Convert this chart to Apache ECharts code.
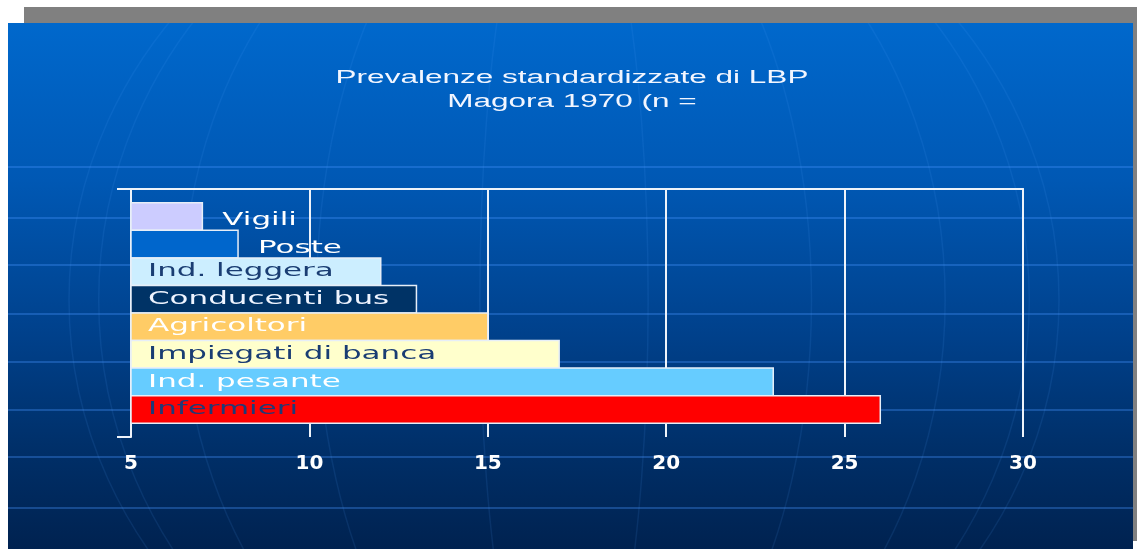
<!DOCTYPE html>
<html><head><meta charset="utf-8">
<script src="https://cdn.jsdelivr.net/npm/echarts@6/dist/echarts.min.js"></script>
<style>html,body{margin:0;padding:0;background:#fff;overflow:hidden}#c{width:1137px;height:549px}</style>
</head><body><div id="c"></div>
<script>
// ---- data ----
const categories = ['Vigili', 'Poste', 'Ind. leggera', 'Conducenti bus', 'Agricoltori', 'Impiegati di banca', 'Ind. pesante', 'Infermieri'];
const values = [7, 8, 12, 13, 15, 17, 23, 26];
const xTickLabels = [5, 10, 15, 20, 25, 30];
const titleLines = ['Prevalenze standardizzate di LBP', 'Magora 1970 (n ='];

// ---- styles ----
const barColors = ['#ccccff', '#0066cc', '#cceeff', '#003366', '#ffcc66', '#ffffcc', '#66ccff', '#ff0000'];
const labelColors = ['#ffffff', '#ffffff', '#1a3d73', '#eef4ff', '#ffffff', '#1a3d73', '#ffffff', '#1e3a78'];

const X_MIN = xTickLabels[0];
const X_MAX = xTickLabels[xTickLabels.length - 1];
const X_INT = xTickLabels[1] - xTickLabels[0];

const SX = 1.72;
const LABEL_SIZE = 18;
const LABEL_FAMILY = '"DejaVu Sans", Verdana, sans-serif';
const mctx = document.createElement('canvas').getContext('2d');
mctx.font = LABEL_SIZE + 'px ' + LABEL_FAMILY;
function textW(t) { return mctx.measureText(t).width * SX; }

const chart = echarts.init(document.getElementById('c'), null, { renderer: 'canvas' });

// background decoration
const bg = [];
bg.push({ type: 'rect', z: -20, shape: { x: 8, y: 23, width: 1125, height: 526 },
  style: { fill: new echarts.graphic.LinearGradient(0, 0, 0, 1, [
    { offset: 0, color: '#0068cc' }, { offset: 0.3, color: '#0058b4' },
    { offset: 0.6, color: '#00408a' }, { offset: 0.8, color: '#00306a' }, { offset: 1, color: '#002250' }]) } });
[167, 218, 265, 314, 362, 410, 457, 508].forEach(function (y) {
  bg.push({ type: 'line', z: -19, shape: { x1: 8, y1: y, x2: 1133, y2: y },
    style: { stroke: 'rgba(70,150,255,0.33)', lineWidth: 2 } });
});
[1, 0.94, 0.77, 0.5, 0.17].forEach(function (k) {
  bg.push({ type: 'ellipse', z: -19, shape: { cx: 564, cy: 300, rx: 495 * k, ry: 460 },
    style: { fill: null, stroke: 'rgba(80,160,255,0.11)', lineWidth: 1.5 } });
});
// frame around the slide
bg.push({ type: 'rect', z: -18, shape: { x: 0, y: 0, width: 1137, height: 7 }, style: { fill: '#ffffff' } });
bg.push({ type: 'rect', z: -18, shape: { x: 0, y: 7, width: 24, height: 16 }, style: { fill: '#ffffff' } });
bg.push({ type: 'rect', z: -18, shape: { x: 24, y: 7, width: 1113, height: 16 }, style: { fill: '#808080' } });
bg.push({ type: 'rect', z: -18, shape: { x: 0, y: 23, width: 8, height: 526 }, style: { fill: '#ffffff' } });
bg.push({ type: 'rect', z: -18, shape: { x: 1133, y: 7, width: 4, height: 534 }, style: { fill: '#808080' } });
bg.push({ type: 'rect', z: -18, shape: { x: 1133, y: 541, width: 4, height: 8 }, style: { fill: '#ffffff' } });
// title
[78.5, 102].forEach(function (y, i) {
  bg.push({ type: 'text', z: 10, x: 572, y: y, scaleX: 1.75, scaleY: 1,
    style: { text: titleLines[i], fill: '#f2f6ff', fontSize: 18, fontFamily: '"Liberation Sans", Arial, sans-serif',
      align: 'center', verticalAlign: 'middle', shadowColor: 'rgba(0,15,40,1)', shadowOffsetX: 1.5, shadowOffsetY: 1.5, shadowBlur: 0.5 } });
});

const WHITE = '#eef3fa';

const option = {
  backgroundColor: '#ffffff',
  animation: false,
  graphic: { elements: bg },
  grid: { left: 131, right: 114, top: 189, bottom: 112, containLabel: false },
  xAxis: [{
    type: 'value', position: 'bottom', min: X_MIN, max: X_MAX, interval: X_INT,
    axisLine: { show: true, lineStyle: { color: WHITE, width: 2 } },
    axisTick: { show: true, inside: false, length: 7, lineStyle: { color: WHITE, width: 2 } },
    axisLabel: { show: true, margin: 17, color: '#ffffff', fontSize: 20, fontWeight: 'bold',
      fontFamily: '"DejaVu Sans", Arial, sans-serif',
      textShadowColor: 'rgba(0,20,60,0.9)', textShadowOffsetX: 1, textShadowOffsetY: 1, textShadowBlur: 0 },
    splitLine: { show: true, lineStyle: { color: WHITE, width: 2 } }
  }, {
    type: 'value', position: 'top', min: X_MIN, max: X_MAX, interval: X_INT,
    axisLine: { show: true, lineStyle: { color: WHITE, width: 2 } },
    axisTick: { show: false }, axisLabel: { show: false }, splitLine: { show: false }
  }],
  yAxis: {
    type: 'value', min: 0, max: categories.length + 1, inverse: true,
    axisLine: { show: true, lineStyle: { color: WHITE, width: 2 } },
    axisTick: { show: false }, axisLabel: { show: false }, splitLine: { show: false }
  },
  series: [{
    type: 'custom',
    xAxisIndex: 0, yAxisIndex: 0,
    encode: { x: 1, y: 0 },
    data: values.map(function (v, i) { return [i, v]; }),
    renderItem: function (params, api) {
      const idx = api.value(0), v = api.value(1);
      const tl = api.coord([X_MIN, idx + 0.5]);
      const br = api.coord([v, idx + 1.5]);
      const x0 = tl[0], y0 = tl[1], x1 = br[0], y1 = br[1];
      const cy = (y0 + y1) / 2;
      const name = categories[idx];
      const w = textW(name);
      const inside = 17 + w + 8 < (x1 - x0);
      const lx = inside ? x0 + 17 : x1 + 20;
      const ly = inside ? cy : cy + 4;
      return { type: 'group', children: [
        { type: 'rect', shape: { x: x0, y: y0, width: x1 - x0, height: y1 - y0 },
          style: { fill: barColors[idx], stroke: '#e6eef8', lineWidth: 1.5 } },
        { type: 'text', x: lx, y: ly, scaleX: SX, scaleY: 1, z2: 5,
          style: { text: name, fill: labelColors[idx], fontSize: LABEL_SIZE, fontFamily: LABEL_FAMILY,
            align: 'left', verticalAlign: 'middle' } }
      ] };
    }
  }]
};
chart.setOption(option);

// short extensions of the top and bottom frame lines to the left of the value axis
const pTop = chart.convertToPixel({ xAxisIndex: 0, yAxisIndex: 0 }, [X_MIN, 0]);
const pBot = chart.convertToPixel({ xAxisIndex: 0, yAxisIndex: 0 }, [X_MIN, categories.length + 1]);
chart.setOption({ graphic: { elements: bg.concat([
  { type: 'line', z: 1, shape: { x1: pTop[0] - 14, y1: pTop[1], x2: pTop[0], y2: pTop[1] }, style: { stroke: WHITE, lineWidth: 2 } },
  { type: 'line', z: 1, shape: { x1: pBot[0] - 14, y1: pBot[1], x2: pBot[0], y2: pBot[1] }, style: { stroke: WHITE, lineWidth: 2 } }
]) } });
</script>
</body></html>
